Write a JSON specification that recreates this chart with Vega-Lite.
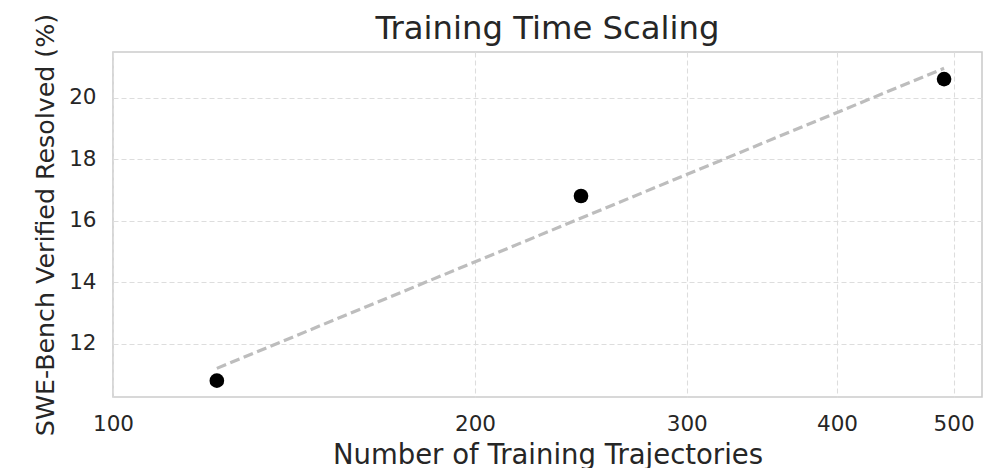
{
  "$schema": "https://vega.github.io/schema/vega-lite/v6.json",
  "autosize": "none",
  "width": 869,
  "height": 345,
  "padding": {"left": 113, "top": 52, "right": 17, "bottom": 71},
  "background": "white",
  "config": {
    "font": "DejaVu Sans",
    "view": {"stroke": "#cccccc", "strokeWidth": 1.6},
    "axis": {
      "domain": false,
      "ticks": false,
      "grid": true,
      "gridColor": "#dddddd",
      "gridDash": [5, 3],
      "gridWidth": 1.1,
      "labelFont": "DejaVu Sans",
      "labelFontSize": 21.5,
      "labelColor": "#262626",
      "labelFlush": false,
      "titleFont": "DejaVu Sans",
      "titleFontWeight": "normal",
      "titleColor": "#262626"
    }
  },
  "title": {
    "text": "Training Time Scaling",
    "font": "DejaVu Sans",
    "fontSize": 32.3,
    "fontWeight": "normal",
    "color": "#262626",
    "anchor": "middle",
    "frame": "group",
    "offset": 7,
    "dy": 39
  },
  "datasets": {
    "points": [
      {"trajectories": 122, "resolved": 10.8},
      {"trajectories": 245, "resolved": 16.8},
      {"trajectories": 491, "resolved": 20.6}
    ],
    "trend": [
      {"trajectories": 122, "resolved": 11.2},
      {"trajectories": 491, "resolved": 20.95}
    ]
  },
  "encoding": {
    "x": {
      "field": "trajectories",
      "type": "quantitative",
      "scale": {"type": "log", "domain": [100, 528], "nice": false},
      "axis": {
        "title": "Number of Training Trajectories",
        "titleFontSize": 27.5,
        "values": [100, 200, 300, 400, 500],
        "format": "d",
        "labelPadding": 16,
        "titleBaseline": "alphabetic",
        "titleY": 66
      }
    },
    "y": {
      "field": "resolved",
      "type": "quantitative",
      "scale": {"domain": [10.27, 21.48], "nice": false, "zero": false},
      "axis": {
        "title": "SWE-Bench Verified Resolved (%)",
        "titleFontSize": 25.3,
        "values": [12, 14, 16, 18, 20],
        "labelPadding": 17,
        "titleBaseline": "alphabetic",
        "titleX": -60
      }
    }
  },
  "layer": [
    {
      "data": {"name": "trend"},
      "mark": {"type": "line", "color": "#bdbdbd", "strokeWidth": 3.2, "strokeDash": [10, 4.5]}
    },
    {
      "data": {"name": "points"},
      "mark": {"type": "point", "filled": true, "color": "black", "opacity": 1, "size": 215}
    }
  ]
}
